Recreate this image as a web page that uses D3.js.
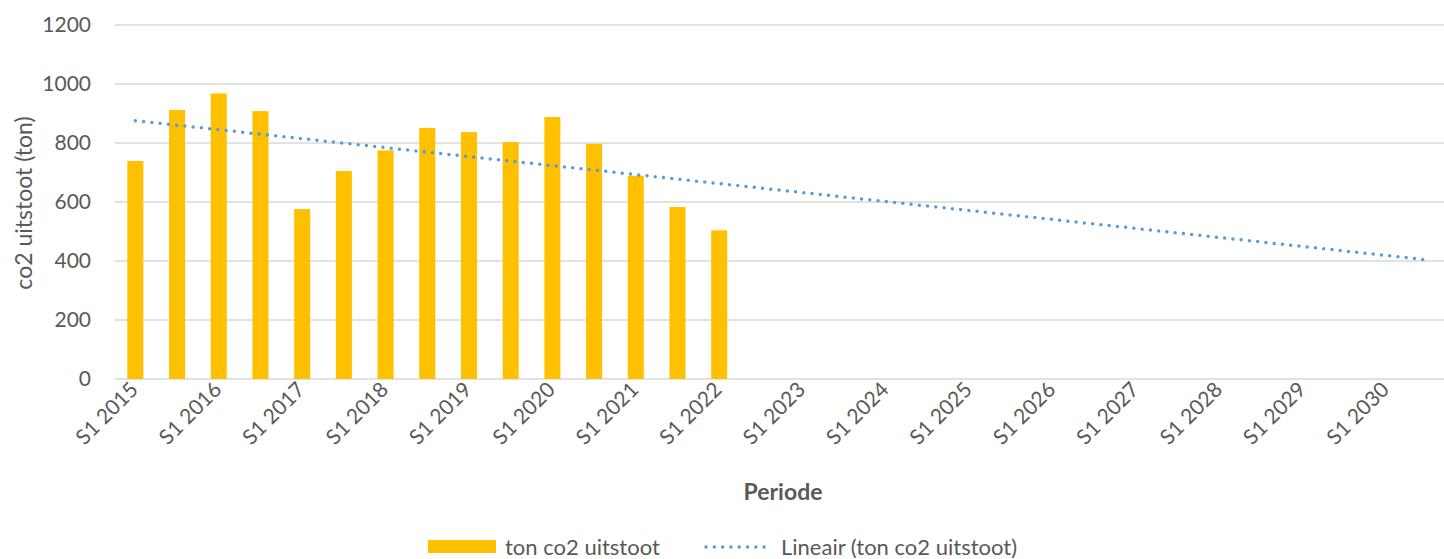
<!DOCTYPE html>
<html>
<head>
<meta charset="utf-8">
<script src="https://cdn.jsdelivr.net/npm/d3@7"></script>
<style>
  body { margin: 0; background: #fff; }
  svg { display: block; font-family: Lato, "Open Sans", sans-serif; }
</style>
</head>
<body>
<script>
// half-year periods, S1 2015 .. S2 2030
var periods = [];
for (var yr = 2015; yr <= 2030; yr++) { periods.push("S1 " + yr); periods.push("S2 " + yr); }

// ton co2 per half year
var emissions = [739, 912, 968, 908, 576, 705, 775, 851, 837, 803, 888, 797, 689, 583, 504];

var yTicks = [0, 200, 400, 600, 800, 1000, 1200];

var W = 1444, H = 559;
var margin = {left: 114.5, right: -5, top: 25, bottom: 180};

var svg = d3.select("body").append("svg").attr("width", W).attr("height", H);

var x = d3.scaleBand()
  .domain(periods)
  .range([margin.left, W - margin.right])
  .paddingInner(0.616).paddingOuter(0.308);

var y = d3.scaleLinear().domain([0, 1200]).range([H - margin.bottom, margin.top]);

// gridlines
svg.append("g").selectAll("line")
  .data(yTicks).enter().append("line")
  .attr("x1", margin.left).attr("x2", W - margin.right)
  .attr("y1", function(d) { return y(d); }).attr("y2", function(d) { return y(d); })
  .attr("stroke", "#d9d9d9").attr("stroke-width", 1.3);

// y tick labels
svg.append("g").selectAll("text")
  .data(yTicks).enter().append("text")
  .attr("x", 91).attr("y", function(d) { return y(d); })
  .attr("dy", "0.35em").attr("text-anchor", "end")
  .attr("fill", "#595959").style("font-size", "21px")
  .text(function(d) { return d; });

// bars
svg.append("g").selectAll("rect")
  .data(emissions).enter().append("rect")
  .attr("x", function(d, i) { return x(periods[i]); })
  .attr("width", x.bandwidth())
  .attr("y", function(d) { return y(d); })
  .attr("height", function(d) { return y(0) - y(d); })
  .attr("fill", "#ffc000");

// linear trend (least squares over the bars, extended to the last period)
var mx = d3.mean(emissions, function(d, i) { return i; });
var my = d3.mean(emissions);
var sxy = 0, sxx = 0;
emissions.forEach(function(d, i) { sxy += (i - mx) * (d - my); sxx += (i - mx) * (i - mx); });
var slope = sxy / sxx, icpt = my - slope * mx;
var half = x.bandwidth() / 2;
var last = periods.length - 1;

svg.append("line")
  .attr("x1", x(periods[0]) + half).attr("y1", y(icpt))
  .attr("x2", x(periods[last]) + half).attr("y2", y(icpt + slope * last))
  .attr("stroke", "#5b9bd5").attr("stroke-width", 3.5)
  .attr("stroke-linecap", "round").attr("stroke-dasharray", "0,8.3");

// x tick labels, every other period
svg.append("g").selectAll("text")
  .data(periods.filter(function(d, i) { return i % 2 == 0; })).enter().append("text")
  .attr("transform", function(d) { return "translate(" + (x(d) + half + 4) + "," + 391 + ") rotate(-45)"; })
  .attr("text-anchor", "end")
  .attr("fill", "#595959").style("font-size", "21px")
  .text(function(d) { return d; });

// axis titles
svg.append("text")
  .attr("transform", "translate(32," + 203 + ") rotate(-90)")
  .attr("text-anchor", "middle").attr("fill", "#595959").style("font-size", "23px")
  .text("co2 uitstoot (ton)");

svg.append("text")
  .attr("x", 783).attr("y", 500).attr("text-anchor", "middle")
  .attr("fill", "#595959").style("font-size", "23px").style("font-weight", "bold")
  .text("Periode");

// legend
var lg = svg.append("g");
lg.append("rect").attr("x", 428).attr("y", 540).attr("width", 68).attr("height", 13).attr("fill", "#ffc000");
lg.append("text").attr("x", 505).attr("y", 555).attr("fill", "#595959").style("font-size", "22px").text("ton co2 uitstoot");
lg.append("line").attr("x1", 706).attr("x2", 772).attr("y1", 547).attr("y2", 547)
  .attr("stroke", "#5b9bd5").attr("stroke-width", 3.5)
  .attr("stroke-linecap", "round").attr("stroke-dasharray", "0,8.3");
lg.append("text").attr("x", 781).attr("y", 555).attr("fill", "#595959").style("font-size", "22px").text("Lineair (ton co2 uitstoot)");
</script>
</body>
</html>
